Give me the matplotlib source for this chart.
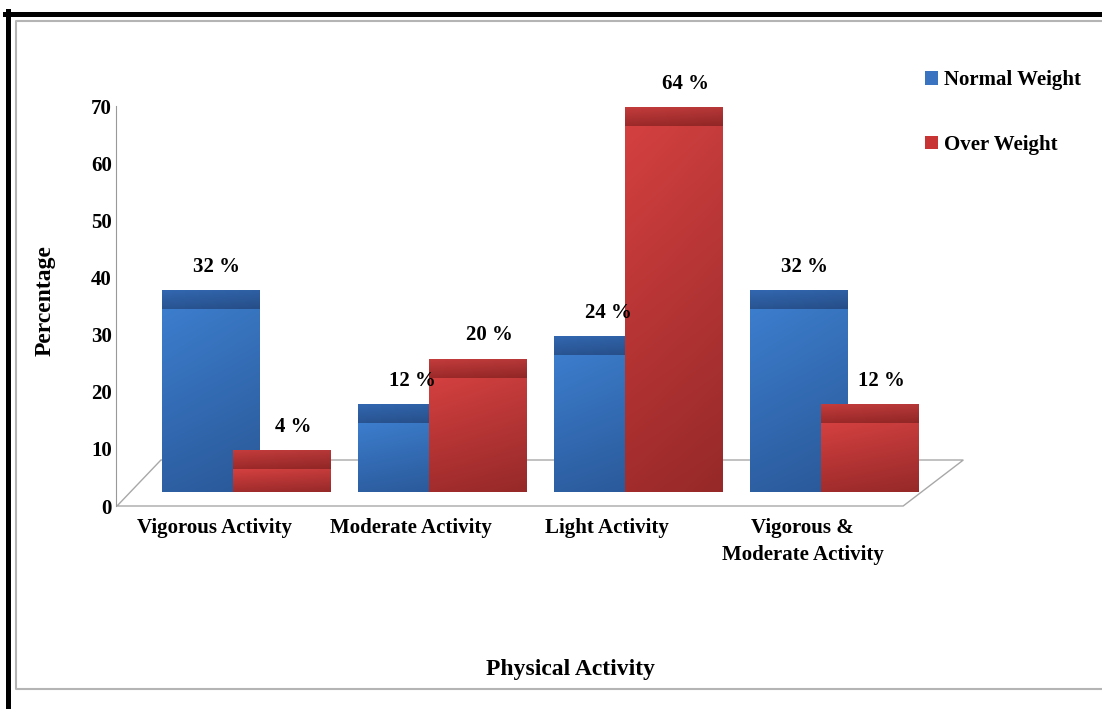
import numpy as np
import matplotlib
matplotlib.use('Agg')
import matplotlib.pyplot as plt
from matplotlib.patches import Polygon, Patch
from matplotlib.lines import Line2D

categories = ['Vigorous Activity', 'Moderate Activity', 'Light Activity',
              'Vigorous &\nModerate Activity']
normal_weight = [32, 12, 24, 32]
over_weight = [4, 20, 64, 12]
series_names = ['Normal Weight', 'Over Weight']

plt.rcParams['font.family'] = ['Liberation Serif', 'DejaVu Serif']
plt.rcParams['font.weight'] = 'bold'

W, H = 1102, 709
fig = plt.figure(figsize=(W / 100, H / 100), dpi=100)
ax = fig.add_axes([0, 0, 1, 1])

# pixel <-> data mapping (1 unit x = one group, 1 unit y = one percent)
px0, sx = 161.7, 196.0
py0, sy = 506.0, 5.714
xlim = (-px0 / sx, (W - px0) / sx)
ylim = ((py0 - H) / sy, py0 / sy)

base = 2.45      # bars stand on the front of the floor
band = 3.2       # depth band shown above each bar
bw = 0.495
red_shift = 0.365


def gradient_bar(x0, x1, y0, y1, top, bottom, z):
    n = 64
    t = np.linspace(0, 1, n).reshape(-1, 1, 1)
    top = np.array(matplotlib.colors.to_rgb(top))
    bottom = np.array(matplotlib.colors.to_rgb(bottom))
    img = bottom + (top - bottom) * t
    # slight darkening on the right side
    hz = np.linspace(1.0, 0.93, 32).reshape(1, -1, 1)
    img = np.clip(img * hz, 0, 1)
    ax.imshow(img, extent=(x0, x1, y0, y1), origin='lower',
              aspect='auto', zorder=z, interpolation='bilinear')


blue = dict(face_top='#3c7dcd', face_bot='#2d5fa3',
            band_top='#3267b0', band_bot='#295492')
red = dict(face_top='#d44040', face_bot='#a22c2c',
           band_top='#c43c3c', band_bot='#9c2929')

# floor
floor = Polygon([(-0.228, 0), (3.783, 0), (4.09, 8.05), (-0.004, 8.05)],
                closed=True, fill=False, edgecolor='#a8a8a8', lw=1.0, zorder=1)
ax.add_patch(floor)

for i in range(len(categories)):
    for j, (vals, col, shift) in enumerate([(normal_weight, blue, 0.0),
                                            (over_weight, red, red_shift)]):
        v = vals[i]
        x0 = i + shift
        z = 3 + 2 * i + j
        gradient_bar(x0, x0 + bw, base, base + v, col['face_top'], col['face_bot'], z)
        gradient_bar(x0, x0 + bw, base + v, base + v + band,
                     col['band_top'], col['band_bot'], z)
        dx = 0.03 if j == 0 else 0.06
        ax.text(x0 + bw / 2 + dx, base + v + band + 4.2, f'{v} %',
                ha='center', va='center', fontsize=15, fontweight='bold',
                zorder=20)

ax.set_xlim(*xlim)
ax.set_ylim(*ylim)

# axes styling
for s in ['top', 'right']:
    ax.spines[s].set_visible(False)
ax.spines['left'].set_position(('data', -0.233))
ax.spines['left'].set_bounds(0, 70)
ax.spines['left'].set_color('#999999')
ax.spines['left'].set_linewidth(0.8)
ax.spines['bottom'].set_position(('data', 0))
ax.spines['bottom'].set_visible(False)
ax.set_yticks(range(0, 80, 10))
ax.set_xticks([i + 0.27 for i in range(len(categories))])
ax.set_xticklabels(categories, fontsize=15, fontweight='bold',
                   linespacing=1.45)
ax.tick_params(axis='y', length=0, pad=3, labelsize=15)
ax.tick_params(axis='x', length=0, pad=9)
for lab in ax.get_yticklabels():
    lab.set_fontweight('bold')

fig.text(570 / W, 1 - 670 / H, 'Physical Activity', ha='center', va='center',
         fontsize=17, fontweight='bold')
fig.text(45 / W, 1 - 301 / H, 'Percentage', ha='center', va='center',
         rotation=90, fontsize=17, fontweight='bold')

handles = [Patch(facecolor='#3a74c0', edgecolor='none'),
           Patch(facecolor='#c83434', edgecolor='none')]
fig.legend(handles, series_names, loc='upper left',
           bbox_to_anchor=(915 / W, 1 - 60 / H), frameon=False,
           prop={'weight': 'bold', 'size': 15},
           handlelength=0.6, handleheight=0.6, handletextpad=0.3,
           labelspacing=2.15, borderpad=0)

# page frame
fig.add_artist(Line2D([5 / W, 1], [1 - 13.5 / H, 1 - 13.5 / H],
                      transform=fig.transFigure, color='black', lw=3.6))
fig.add_artist(Line2D([7.5 / W, 7.5 / W], [0, 1 - 11 / H],
                      transform=fig.transFigure, color='black', lw=3.6))
fig.add_artist(Line2D([1, 15.5 / W, 15.5 / W, 1],
                      [1 - 20.5 / H, 1 - 20.5 / H, 1 - 689 / H, 1 - 689 / H],
                      transform=fig.transFigure, color='#b4b4b4', lw=1.5))

fig.savefig('out.png', dpi=100)
